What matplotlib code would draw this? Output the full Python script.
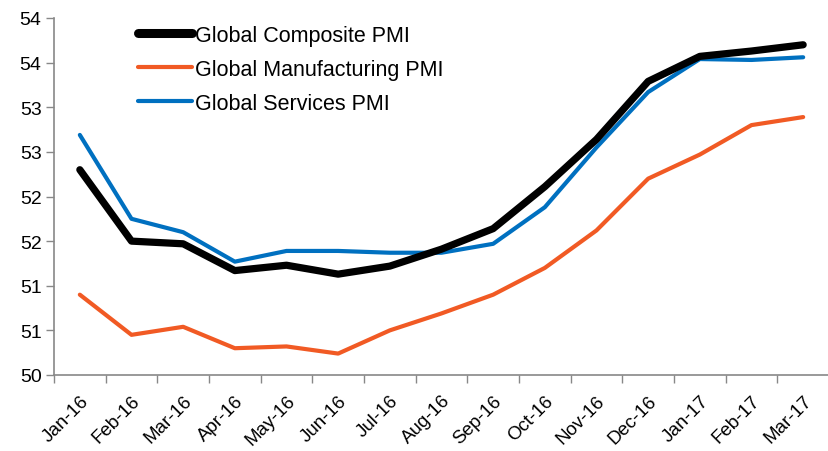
import numpy as np
import matplotlib
matplotlib.use("Agg")
import matplotlib.pyplot as plt
from matplotlib.ticker import FuncFormatter, MultipleLocator

months = ["Jan-16", "Feb-16", "Mar-16", "Apr-16", "May-16", "Jun-16", "Jul-16",
          "Aug-16", "Sep-16", "Oct-16", "Nov-16", "Dec-16", "Jan-17", "Feb-17", "Mar-17"]
composite = [52.30, 51.50, 51.47, 51.17, 51.23, 51.13, 51.22, 51.41, 51.64,
             52.11, 52.64, 53.29, 53.57, 53.63, 53.70]
manufacturing = [50.90, 50.45, 50.54, 50.30, 50.32, 50.24, 50.50, 50.69, 50.90,
                 51.20, 51.62, 52.20, 52.47, 52.80, 52.89]
services = [52.69, 51.75, 51.60, 51.27, 51.39, 51.39, 51.37, 51.37, 51.47,
            51.88, 52.55, 53.17, 53.54, 53.53, 53.56]

plt.rcParams["font.family"] = ["Liberation Sans", "DejaVu Sans"]

fig = plt.figure(figsize=(8.29, 4.52), dpi=100)
ax = fig.add_axes([54 / 829, 1 - 376 / 452, 775 / 829, (376 - 19) / 452])

x = np.arange(len(months))
ax.plot(x, composite, color="black", lw=5.2, solid_capstyle="round",
        solid_joinstyle="round", label="Global Composite PMI", zorder=3)
ax.plot(x, manufacturing, color="#F15A24", lw=3.0, solid_capstyle="round",
        solid_joinstyle="round", label="Global Manufacturing PMI", zorder=2)
ax.plot(x, services, color="#0070C0", lw=3.0, solid_capstyle="round",
        solid_joinstyle="round", label="Global Services PMI", zorder=2)

ax.set_xlim(-0.5, len(months) - 0.5)
ax.set_ylim(50, 54)
ax.yaxis.set_major_locator(MultipleLocator(0.5))
ax.yaxis.set_major_formatter(FuncFormatter(lambda v, p: f"{int(np.floor(v + 0.5))}"))

ax.set_xticks(x)
ax.set_xticklabels(months, rotation=45, ha="right", rotation_mode="anchor")
ax.set_xticks(np.arange(-0.5, len(months), 1.0), minor=True)
ax.tick_params(axis="x", which="major", length=0, pad=12, labelsize=13.5)
ax.tick_params(axis="x", which="minor", length=6, width=1, color="#888888")
ax.tick_params(axis="y", length=6, width=1, color="#888888", labelsize=14, pad=3)

for s in ["top", "right"]:
    ax.spines[s].set_visible(False)
for s in ["left", "bottom"]:
    ax.spines[s].set_color("#888888")
    ax.spines[s].set_linewidth(1.2)

leg = ax.legend(loc="upper left", bbox_to_anchor=(127 / 829, 1 - 15 / 452),
                bbox_transform=fig.transFigure, frameon=False, borderpad=0,
                fontsize=15.5, handlelength=2.5, handletextpad=0.15,
                labelspacing=0.61)
leg.get_lines()[0].set_linewidth(6.5)

fig.savefig("out.png", dpi=100)
